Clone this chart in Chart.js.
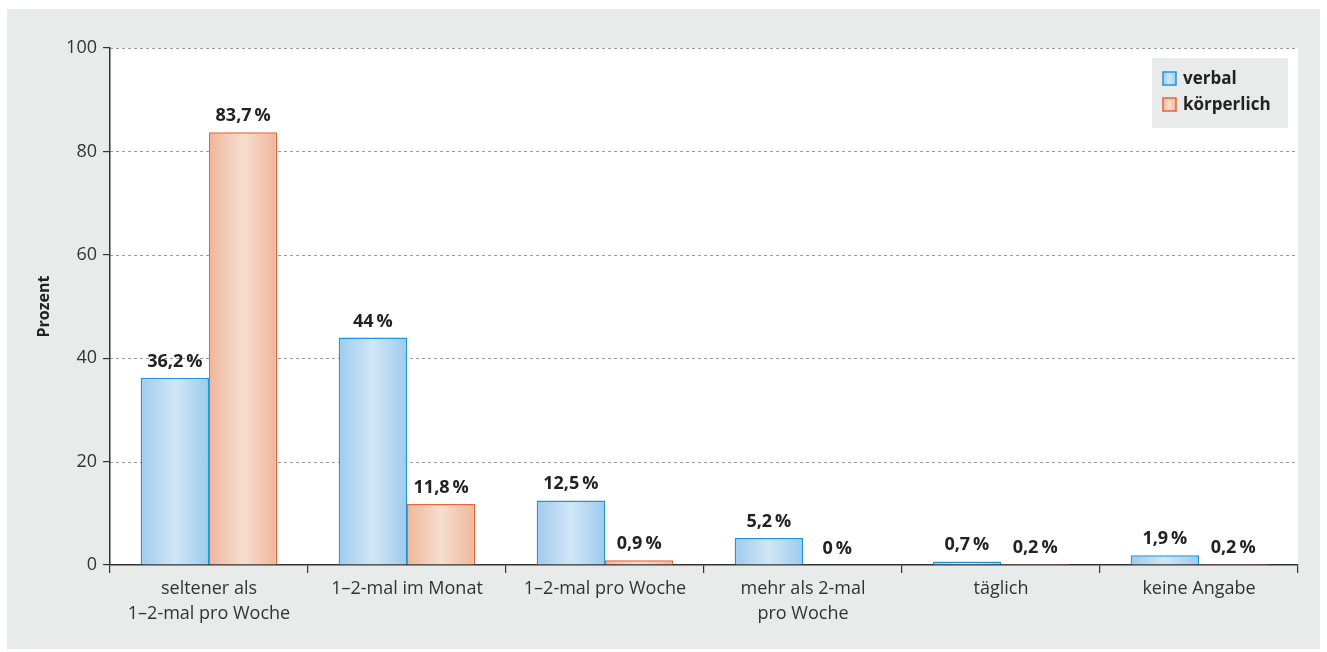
<!DOCTYPE html>
<html>
<head>
<meta charset="utf-8">
<script src="https://cdn.jsdelivr.net/npm/chart.js@4"></script>
<style>
  body { margin: 0; background: #fff; }
  #box { position: absolute; left: 7px; top: 9px; width: 1313px; height: 640px; background: #e9eaea; }
</style>
</head>
<body>
<div id="box"><canvas id="chart"></canvas></div>
<script>
let kategorien = [
  ['seltener als', '1–2-mal pro Woche'],
  '1–2-mal im Monat',
  '1–2-mal pro Woche',
  ['mehr als 2-mal', 'pro Woche'],
  'täglich',
  'keine Angabe'
];
let verbal = [36.2, 44, 12.5, 5.2, 0.7, 1.9];
let koerperlich = [83.7, 11.8, 0.9, 0, 0.2, 0.2];
let yTicks = [0, 20, 40, 60, 80, 100];

let schrift = '"Open Sans", "DejaVu Sans", sans-serif';
let farben = [
  { rand: '#1a98d8', aussen: '#9ecbee', mitte: '#d0e6f6' },
  { rand: '#e8623a', aussen: '#eeb79b', mitte: '#f7ddcf' }
];

function verlauf(ctx, x0, x1, f) {
  let g = ctx.createLinearGradient(x0, 0, x1, 0);
  g.addColorStop(0, f.aussen);
  g.addColorStop(0.5, f.mitte);
  g.addColorStop(1, f.aussen);
  return g;
}

// weisser Plotbereich, Gitterlinien, Verlauf in den Balken, Werte, Legende
let zeichnen = {
  id: 'zeichnen',
  beforeDraw(chart) {
    let { ctx, chartArea: a } = chart;
    ctx.save();
    ctx.fillStyle = '#fff';
    ctx.fillRect(a.left, a.top, a.right - a.left, a.bottom - a.top);
    ctx.strokeStyle = '#9a9a9a';
    ctx.lineWidth = 1;
    ctx.setLineDash([3, 3]);
    let y = chart.scales.y;
    yTicks.forEach(t => {
      if (t === 0) return;
      let py = Math.round(y.getPixelForValue(t)) + 0.5;
      ctx.beginPath();
      ctx.moveTo(a.left, py);
      ctx.lineTo(a.right, py);
      ctx.stroke();
    });
    ctx.restore();
  },
  beforeDatasetsDraw(chart) {
    chart.data.datasets.forEach((ds, i) => {
      chart.getDatasetMeta(i).data.forEach(el => {
        let g = verlauf(chart.ctx, el.x - el.width / 2, el.x + el.width / 2, farben[i]);
        el.options = Object.assign({}, el.options, { backgroundColor: g });
      });
    });
  },
  afterDatasetsDraw(chart) {
    let ctx = chart.ctx;
    ctx.save();
    ctx.font = 'bold 18px ' + schrift;
    ctx.fillStyle = '#222';
    ctx.textAlign = 'center';
    ctx.textBaseline = 'alphabetic';
    chart.data.datasets.forEach((ds, i) => {
      chart.getDatasetMeta(i).data.forEach((el, j) => {
        let txt = String(ds.data[j]).replace('.', ',') + '\u2009%';
        ctx.fillText(txt, el.x, el.y - 11);
      });
    });

    // Legende
    let a = chart.chartArea;
    let lx = a.right - 146, ly = a.top + 10;
    ctx.fillStyle = '#e9eaea';
    ctx.fillRect(lx, ly, 136, 70);
    ctx.font = 'bold 17px ' + schrift;
    ctx.textAlign = 'left';
    ctx.textBaseline = 'middle';
    chart.data.datasets.forEach((ds, i) => {
      let sy = ly + 21 + i * 26;
      let sx = lx + 11;
      ctx.fillStyle = verlauf(ctx, sx, sx + 13, farben[i]);
      ctx.fillRect(sx, sy - 7, 13, 13);
      ctx.strokeStyle = farben[i].rand;
      ctx.lineWidth = 1.5;
      ctx.strokeRect(sx, sy - 7, 13, 13);
      ctx.fillStyle = '#222';
      ctx.fillText(ds.label, sx + 20, sy);
    });
    ctx.restore();
  }
};

new Chart(document.getElementById('chart'), {
  type: 'bar',
  data: {
    labels: kategorien,
    datasets: [
      { label: 'verbal', data: verbal, borderColor: farben[0].rand, backgroundColor: farben[0].aussen,
        borderWidth: 1.5, borderSkipped: 'bottom' },
      { label: 'körperlich', data: koerperlich, borderColor: farben[1].rand, backgroundColor: farben[1].aussen,
        borderWidth: 1.5, borderSkipped: 'bottom' }
    ]
  },
  options: {
    responsive: true,
    maintainAspectRatio: false,
    animation: false,
    layout: { padding: { top: 39, right: 22, left: 0, bottom: 0 } },
    datasets: { bar: { categoryPercentage: 0.69, barPercentage: 1 } },
    plugins: { legend: { display: false }, tooltip: { enabled: false } },
    scales: {
      x: {
        grid: { offset: true, drawOnChartArea: false, drawTicks: true, tickLength: 8, color: '#333', lineWidth: 1.2 },
        border: { color: '#333', width: 1.5 },
        ticks: { color: '#333', font: { family: schrift, size: 18, lineHeight: 1.35 }, padding: 4, maxRotation: 0 },
        afterFit: s => { s.height = 84; }
      },
      y: {
        min: 0, max: 100,
        afterBuildTicks: s => { s.ticks = yTicks.map(v => ({ value: v })); },
        grid: { drawOnChartArea: false, drawTicks: true, tickLength: 7, color: '#333', lineWidth: 1.2 },
        border: { color: '#333', width: 1.5 },
        ticks: { color: '#333', font: { family: schrift, size: 18 }, padding: 6 },
        title: { display: true, text: 'Prozent', color: '#222', font: { family: schrift, size: 16, weight: 'bold' },
          padding: { top: 28, bottom: 0 } },
        afterFit: s => { s.width = 103; }
      }
    }
  },
  plugins: [zeichnen]
});
</script>
</body>
</html>
